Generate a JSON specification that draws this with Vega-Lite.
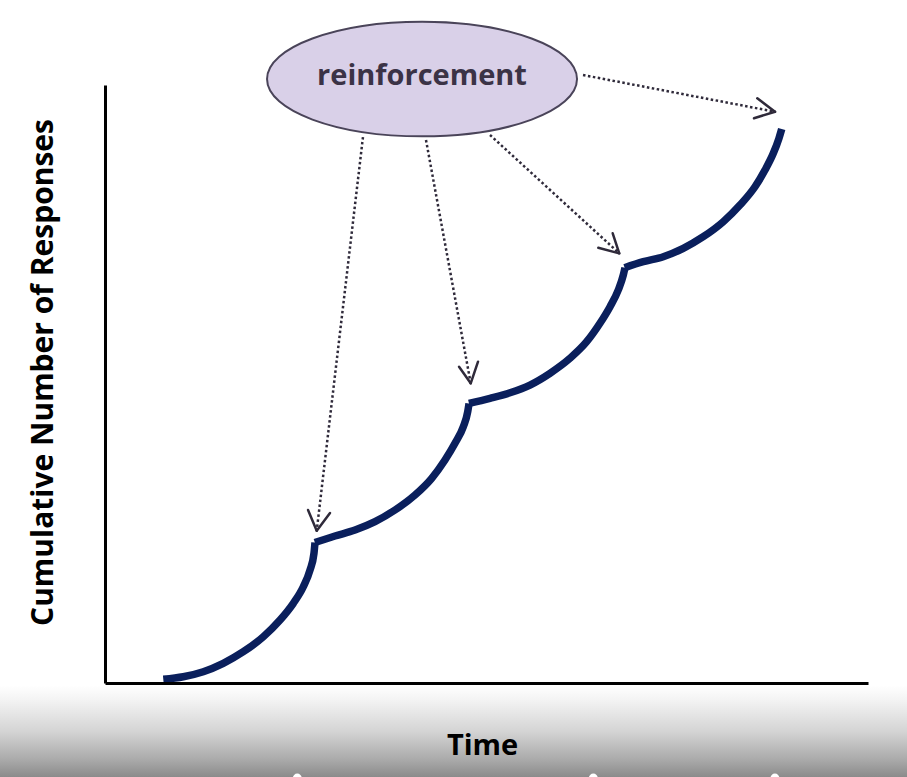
{
  "$schema": "https://vega.github.io/schema/vega-lite/v6.json",
  "width": 763,
  "height": 598,
  "autosize": {"type": "none"},
  "padding": {"left": 105, "top": 85, "right": 39, "bottom": 94},
  "background": "#ffffff",
  "config": {"view": {"stroke": null}},
  "datasets": {
    "shade": [{"x": -13.8, "x2": 105.2, "y": -0.4, "y2": -15.8}],
    "marks": [{"x": 25.2, "y": -15.9}, {"x": 64.0, "y": -15.9}, {"x": 87.8, "y": -15.9}],
    "record": [
      {"seg": 1, "x": 7.64, "y": 0.62}, {"seg": 1, "x": 10.26, "y": 1.05}, {"seg": 1, "x": 12.88, "y": 1.89},
      {"seg": 1, "x": 15.5, "y": 3.29}, {"seg": 1, "x": 18.13, "y": 5.23}, {"seg": 1, "x": 20.75, "y": 7.74},
      {"seg": 1, "x": 22.94, "y": 10.53}, {"seg": 1, "x": 24.68, "y": 13.33}, {"seg": 1, "x": 25.99, "y": 16.1},
      {"seg": 1, "x": 26.87, "y": 18.9}, {"seg": 1, "x": 27.39, "y": 21.69}, {"seg": 1, "x": 27.52, "y": 23.5},
      {"seg": 2, "x": 27.5, "y": 23.5}, {"seg": 2, "x": 30.14, "y": 24.58}, {"seg": 2, "x": 32.77, "y": 25.58},
      {"seg": 2, "x": 35.39, "y": 26.97}, {"seg": 2, "x": 38.01, "y": 28.93}, {"seg": 2, "x": 40.63, "y": 31.44},
      {"seg": 2, "x": 42.82, "y": 34.23}, {"seg": 2, "x": 44.56, "y": 37.29}, {"seg": 2, "x": 45.87, "y": 40.08},
      {"seg": 2, "x": 46.96, "y": 42.86}, {"seg": 2, "x": 47.54, "y": 45.37}, {"seg": 2, "x": 47.71, "y": 46.75},
      {"seg": 3, "x": 47.7, "y": 46.75}, {"seg": 3, "x": 50.46, "y": 47.61}, {"seg": 3, "x": 53.08, "y": 48.54},
      {"seg": 3, "x": 55.7, "y": 49.83}, {"seg": 3, "x": 58.32, "y": 51.79}, {"seg": 3, "x": 60.94, "y": 54.3},
      {"seg": 3, "x": 63.13, "y": 57.07}, {"seg": 3, "x": 64.87, "y": 60.15}, {"seg": 3, "x": 66.19, "y": 62.93},
      {"seg": 3, "x": 67.27, "y": 65.72}, {"seg": 3, "x": 67.93, "y": 68.23}, {"seg": 3, "x": 68.15, "y": 69.45},
      {"seg": 4, "x": 68.1, "y": 69.45}, {"seg": 4, "x": 70.55, "y": 70.45}, {"seg": 4, "x": 73.17, "y": 71.29},
      {"seg": 4, "x": 75.79, "y": 72.69}, {"seg": 4, "x": 78.41, "y": 74.63}, {"seg": 4, "x": 81.03, "y": 77.14},
      {"seg": 4, "x": 83.22, "y": 79.93}, {"seg": 4, "x": 85.19, "y": 82.99}, {"seg": 4, "x": 86.5, "y": 85.78},
      {"seg": 4, "x": 87.59, "y": 88.58}, {"seg": 4, "x": 88.33, "y": 91.09}, {"seg": 4, "x": 88.69, "y": 92.64}
    ],
    "shafts": [
      {"x": 33.81, "y": 91.3, "x2": 27.75, "y2": 25.47},
      {"x": 42.07, "y": 90.8, "x2": 47.93, "y2": 50.12},
      {"x": 50.46, "y": 91.64, "x2": 67.4, "y2": 71.85},
      {"x": 62.65, "y": 101.67, "x2": 87.81, "y2": 95.53}
    ],
    "heads": [
      {"x": 26.61, "y": 28.93, "x2": 27.75, "y2": 25.47},
      {"x": 29.49, "y": 28.43, "x2": 27.75, "y2": 25.47},
      {"x": 46.4, "y": 52.89, "x2": 47.93, "y2": 50.12},
      {"x": 48.89, "y": 53.73, "x2": 47.93, "y2": 50.12},
      {"x": 64.65, "y": 72.79, "x2": 67.4, "y2": 71.85},
      {"x": 66.54, "y": 75.2, "x2": 67.4, "y2": 71.85},
      {"x": 85.49, "y": 97.77, "x2": 87.81, "y2": 95.53},
      {"x": 85.06, "y": 94.43, "x2": 87.81, "y2": 95.53}
    ],
    "bubble": [{"x": 41.55, "y": 101.0, "label": "reinforcement"}]
  },
  "encoding": {
    "x": {
      "field": "x", "type": "quantitative",
      "scale": {"domain": [0, 100], "nice": false, "zero": false},
      "axis": {
        "title": "Time", "labels": false, "ticks": false, "grid": false,
        "domainColor": "#000000", "domainWidth": 3, "zindex": 1,
        "titleFont": "Open Sans", "titleFontWeight": "bold", "titleFontSize": 29, "titleColor": "#000000",
        "titleX": 377, "titleY": 62, "titleAlign": "center", "titleBaseline": "middle"
      }
    },
    "y": {
      "field": "y", "type": "quantitative",
      "scale": {"domain": [0, 100], "nice": false, "zero": false},
      "axis": {
        "title": "Cumulative Number of Responses", "labels": false, "ticks": false, "grid": false,
        "domainColor": "#000000", "domainWidth": 3, "zindex": 1,
        "titleFont": "Open Sans", "titleFontWeight": "bold", "titleFontSize": 30, "titleColor": "#000000",
        "titleX": -62, "titleY": 287, "titleAngle": -90, "titleAlign": "center", "titleBaseline": "middle"
      }
    }
  },
  "layer": [
    {
      "data": {"name": "shade"},
      "mark": {
        "type": "rect",
        "fill": {"gradient": "linear", "x1": 0, "y1": 0, "x2": 0, "y2": 1,
          "stops": [
            {"offset": 0, "color": "#ffffff"},
            {"offset": 0.15, "color": "#f4f4f4"},
            {"offset": 0.5, "color": "#d4d4d4"},
            {"offset": 0.8, "color": "#ababab"},
            {"offset": 1, "color": "#8a8a8a"}
          ]}
      },
      "encoding": {"x2": {"field": "x2"}, "y2": {"field": "y2"}}
    },
    {
      "data": {"name": "marks"},
      "mark": {"type": "point", "filled": true, "color": "#ffffff", "size": 80, "opacity": 1}
    },
    {
      "data": {"name": "record"},
      "mark": {"type": "line", "interpolate": "monotone", "strokeWidth": 7.5, "color": "#0a1f5c", "strokeCap": "butt"},
      "encoding": {"detail": {"field": "seg", "type": "nominal"}}
    },
    {
      "data": {"name": "shafts"},
      "mark": {"type": "rule", "strokeWidth": 2.5, "strokeDash": [2.5, 2.5], "color": "#2f2a3a"},
      "encoding": {"x2": {"field": "x2"}, "y2": {"field": "y2"}}
    },
    {
      "data": {"name": "heads"},
      "mark": {"type": "rule", "strokeWidth": 2.5, "strokeCap": "round", "color": "#2f2a3a"},
      "encoding": {"x2": {"field": "x2"}, "y2": {"field": "y2"}}
    },
    {
      "data": {"name": "bubble"},
      "mark": {
        "type": "point",
        "shape": "M-1,0A1,0.37,0,1,1,1,0A1,0.37,0,1,1,-1,0Z",
        "size": 96100, "filled": true, "fill": "#d9d0e8", "stroke": "#4a4459", "strokeWidth": 2, "opacity": 1
      }
    },
    {
      "data": {"name": "bubble"},
      "mark": {"type": "text", "font": "Open Sans", "fontWeight": "bold", "fontSize": 29, "color": "#3b3346", "align": "center", "baseline": "middle", "dy": -3},
      "encoding": {"text": {"field": "label"}}
    }
  ]
}
